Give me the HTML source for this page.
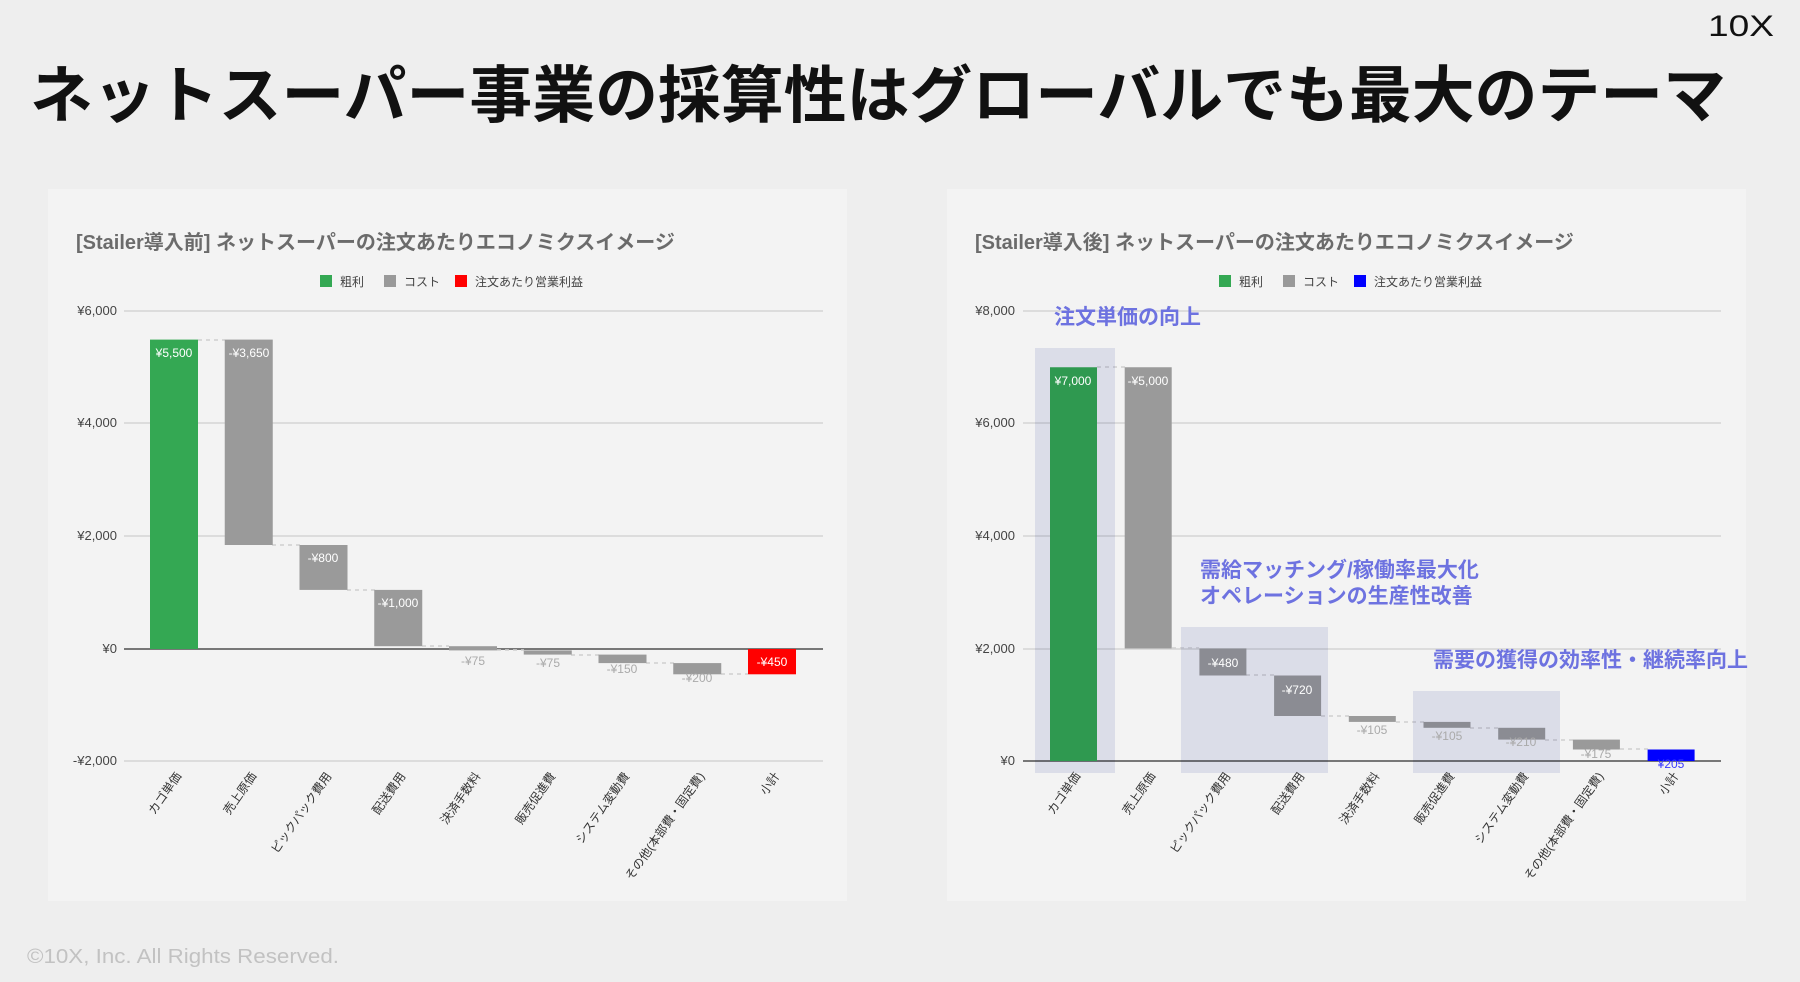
<!DOCTYPE html>
<html><head><meta charset="utf-8"><style>
html,body{margin:0;padding:0;background:#eeeeee;}
svg{display:block;font-family:"Liberation Sans","Noto Sans CJK JP",sans-serif;}
</style></head><body>
<svg width="1800" height="982" viewBox="0 0 1800 982" xmlns="http://www.w3.org/2000/svg">
<rect width="1800" height="982" fill="#eeeeee"/>
<text x="30" y="117" font-size="62" font-weight="bold" fill="#111" textLength="1696" lengthAdjust="spacingAndGlyphs">ネットスーパー事業の採算性はグローバルでも最大のテーマ</text>
<text x="1708" y="36" font-size="30" fill="#111" textLength="66" lengthAdjust="spacingAndGlyphs">10X</text>

<rect x="48" y="189" width="799" height="712" fill="#f3f3f3"/>
<rect x="947" y="189" width="799" height="712" fill="#f3f3f3"/>

<g>
<text x="76" y="249" font-size="20" font-weight="bold" fill="#6b6b6b">[Stailer導入前] ネットスーパーの注文あたりエコノミクスイメージ</text>
<rect x="320" y="275" width="12" height="12" fill="#34a853"/><text x="340" y="286" font-size="12" fill="#444">粗利</text>
<rect x="384" y="275" width="12" height="12" fill="#999"/><text x="404" y="286" font-size="12" fill="#444">コスト</text>
<rect x="455" y="275" width="12" height="12" fill="#ff0000"/><text x="475" y="286" font-size="12" fill="#444">注文あたり営業利益</text>
<g stroke="#dcdcdc" stroke-width="2"><line x1="124" y1="311" x2="823" y2="311"/><line x1="124" y1="423" x2="823" y2="423"/><line x1="124" y1="536" x2="823" y2="536"/><line x1="124" y1="761" x2="823" y2="761"/></g>
<line x1="124" y1="649" x2="823" y2="649" stroke="#777" stroke-width="2"/>
<g font-size="13" fill="#444" text-anchor="end"><text x="117" y="315">¥6,000</text><text x="117" y="427">¥4,000</text><text x="117" y="540">¥2,000</text><text x="117" y="653">¥0</text><text x="117" y="765">-¥2,000</text></g>
<g stroke="#d0d0d0" stroke-dasharray="4,4" stroke-width="1.5">
<line x1="198" y1="340" x2="225" y2="340"/><line x1="272" y1="545" x2="300" y2="545"/><line x1="347" y1="590" x2="375" y2="590"/><line x1="422" y1="646" x2="449" y2="646"/><line x1="497" y1="650" x2="524" y2="650"/><line x1="571" y1="655" x2="599" y2="655"/><line x1="646" y1="663" x2="674" y2="663"/><line x1="721" y1="674" x2="748" y2="674"/></g>
<rect x="150" y="339.6" width="48" height="309.4" fill="#34a853"/>
<g fill="#9a9a9a">
<rect x="224.75" y="339.6" width="48" height="205.4"/>
<rect x="299.5" y="545" width="48" height="44.9"/>
<rect x="374.25" y="589.9" width="48" height="56.3"/>
<rect x="449" y="646.2" width="48" height="4.2"/>
<rect x="523.75" y="650.4" width="48" height="4.2"/>
<rect x="598.5" y="654.6" width="48" height="8.5"/>
<rect x="673.25" y="663.1" width="48" height="11.2"/></g>
<rect x="748" y="649" width="48" height="25.3" fill="#ff0000"/>
<g font-size="12" fill="#fff" text-anchor="middle">
<text x="174" y="357">¥5,500</text><text x="249" y="357">-¥3,650</text><text x="323" y="562">-¥800</text><text x="398" y="607">-¥1,000</text><text x="772" y="666">-¥450</text></g>
<g font-size="12" fill="#aaa" text-anchor="middle">
<text x="473" y="665">-¥75</text><text x="548" y="667">-¥75</text><text x="622" y="673">-¥150</text><text x="697" y="682">-¥200</text></g>
<g font-size="12" fill="#333" text-anchor="end">
<text transform="translate(182,776) rotate(-55)">カゴ単価</text>
<text transform="translate(257,776) rotate(-55)">売上原価</text>
<text transform="translate(332,776) rotate(-55)">ピックパック費用</text>
<text transform="translate(406,776) rotate(-55)">配送費用</text>
<text transform="translate(481,776) rotate(-55)">決済手数料</text>
<text transform="translate(556,776) rotate(-55)">販売促進費</text>
<text transform="translate(630,776) rotate(-55)">システム変動費</text>
<text transform="translate(705,776) rotate(-55)">その他(本部費・固定費)</text>
<text transform="translate(780,776) rotate(-55)">小計</text></g>
</g>

<g>
<text x="975" y="249" font-size="20" font-weight="bold" fill="#6b6b6b">[Stailer導入後] ネットスーパーの注文あたりエコノミクスイメージ</text>
<rect x="1219" y="275" width="12" height="12" fill="#34a853"/><text x="1239" y="286" font-size="12" fill="#444">粗利</text>
<rect x="1283" y="275" width="12" height="12" fill="#999"/><text x="1303" y="286" font-size="12" fill="#444">コスト</text>
<rect x="1354" y="275" width="12" height="12" fill="#0000ff"/><text x="1374" y="286" font-size="12" fill="#444">注文あたり営業利益</text>
<g stroke="#dcdcdc" stroke-width="2"><line x1="1023" y1="311" x2="1721" y2="311"/><line x1="1023" y1="423" x2="1721" y2="423"/><line x1="1023" y1="536" x2="1721" y2="536"/><line x1="1023" y1="649" x2="1721" y2="649"/></g>
<line x1="1023" y1="761" x2="1721" y2="761" stroke="#777" stroke-width="2"/>
<g font-size="13" fill="#444" text-anchor="end"><text x="1015" y="315">¥8,000</text><text x="1015" y="427">¥6,000</text><text x="1015" y="540">¥4,000</text><text x="1015" y="653">¥2,000</text><text x="1015" y="765">¥0</text></g>
<g stroke="#d0d0d0" stroke-dasharray="4,4" stroke-width="1.5">
<line x1="1097" y1="367" x2="1125" y2="367"/><line x1="1172" y1="648" x2="1199" y2="648"/><line x1="1246" y1="675" x2="1274" y2="675"/><line x1="1321" y1="716" x2="1349" y2="716"/><line x1="1396" y1="722" x2="1424" y2="722"/><line x1="1470" y1="728" x2="1498" y2="728"/><line x1="1545" y1="740" x2="1573" y2="740"/><line x1="1620" y1="749" x2="1648" y2="749"/></g>
<rect x="1050" y="367.25" width="47" height="393.75" fill="#34a853"/>
<g fill="#9a9a9a">
<rect x="1124.7" y="367.25" width="47" height="281.25"/>
<rect x="1199.4" y="648.5" width="47" height="27"/>
<rect x="1274.1" y="675.5" width="47" height="40.5"/>
<rect x="1348.8" y="716" width="47" height="5.9"/>
<rect x="1423.5" y="721.9" width="47" height="5.9"/>
<rect x="1498.2" y="727.8" width="47" height="11.8"/>
<rect x="1572.9" y="739.6" width="47" height="9.9"/></g>
<rect x="1647.6" y="749.5" width="47" height="11.5" fill="#0000ff"/>
<g fill="#e6e8f4" style="mix-blend-mode:multiply">
<rect x="1035" y="348" width="80" height="425"/>
<rect x="1181" y="627" width="147" height="146"/>
<rect x="1413" y="691" width="147" height="82"/></g>
<g font-size="12" fill="#fff" text-anchor="middle">
<text x="1073" y="385">¥7,000</text><text x="1148" y="385">-¥5,000</text><text x="1223" y="667">-¥480</text><text x="1297" y="694">-¥720</text></g>
<g font-size="12" fill="#aaa" text-anchor="middle">
<text x="1372" y="734">-¥105</text><text x="1447" y="740">-¥105</text><text x="1521" y="746">-¥210</text><text x="1596" y="758">-¥175</text></g>
<text x="1671" y="768" font-size="12" fill="#3a3aff" text-anchor="middle">¥205</text>
<g font-size="12" fill="#333" text-anchor="end">
<text transform="translate(1081,776) rotate(-55)">カゴ単価</text>
<text transform="translate(1156,776) rotate(-55)">売上原価</text>
<text transform="translate(1231,776) rotate(-55)">ピックパック費用</text>
<text transform="translate(1305,776) rotate(-55)">配送費用</text>
<text transform="translate(1380,776) rotate(-55)">決済手数料</text>
<text transform="translate(1455,776) rotate(-55)">販売促進費</text>
<text transform="translate(1529,776) rotate(-55)">システム変動費</text>
<text transform="translate(1604,776) rotate(-55)">その他(本部費・固定費)</text>
<text transform="translate(1679,776) rotate(-55)">小計</text></g>
<g font-size="21" fill="#6d72e0" font-weight="bold">
<text x="1054" y="324">注文単価の向上</text>
<text x="1200" y="577">需給マッチング/稼働率最大化</text>
<text x="1200" y="603">オペレーションの生産性改善</text>
<text x="1433" y="667">需要の獲得の効率性・継続率向上</text></g>
</g>

<text x="27" y="963" font-size="20" fill="#c2c2c2" textLength="312" lengthAdjust="spacingAndGlyphs">©10X, Inc. All Rights Reserved.</text>
</svg>
</body></html>
